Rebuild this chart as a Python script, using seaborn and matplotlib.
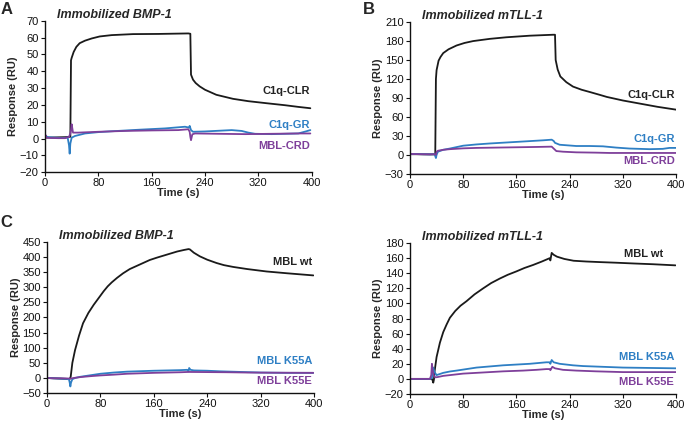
import matplotlib
matplotlib.use("Agg")
import matplotlib.pyplot as plt
import seaborn as sns
import pandas as pd

# ---- data (time in s, response in RU) ----
# A: immobilized BMP-1
a_clr_t = [0, 10, 20, 30, 38, 39, 40, 43, 47, 52, 60, 70, 82, 100, 132, 170, 215, 218, 219, 222, 226, 232, 240, 257, 282, 305, 332, 360, 380, 398]
a_clr_y = [0.5, 0.6, 0.7, 0.8, 1, 46.5, 48, 51.5, 54.5, 56.7, 58.2, 59.5, 60.7, 61.5, 62.1, 62.2, 62.5, 62.3, 38, 35, 33, 31, 29, 26, 23.6, 22.2, 21, 19.8, 18.8, 18]
a_gr_t = [0, 5, 15, 25, 34, 36, 37, 38, 40, 45, 60, 80, 100, 140, 180, 210, 216, 217, 219, 222, 240, 260, 280, 295, 305, 315, 340, 380, 392, 398]
a_gr_y = [1.5, 0.8, 0.5, 0.3, 0.5, -4, -9, -3, 0.5, 1.5, 3, 3.8, 4.3, 5.2, 6, 7, 6.5, 7.5, 5, 4, 4.2, 4.6, 5, 4.5, 3.5, 2.8, 2.6, 3, 4.3, 5]
a_crd_t = [0, 1, 2, 10, 20, 30, 36, 38, 39, 40, 42, 50, 80, 120, 160, 200, 215, 217, 218, 219, 221, 225, 260, 300, 340, 380, 398]
a_crd_y = [0.5, 2, 0.5, 0.3, 0.2, 0.2, 1, 3, 5, 8.5, 3.5, 3.5, 4, 4.5, 4.8, 5, 5.5, 4, 1, -1, 2.5, 3, 2.8, 2.6, 2.8, 3, 3]

# B: immobilized mTLL-1
b_clr_t = [0, 10, 20, 30, 38, 39, 40, 43, 46, 50, 58, 70, 82, 95, 120, 145, 180, 215, 218, 219, 222, 226, 235, 245, 258, 270, 285, 296, 320, 346, 372, 400]
b_clr_y = [1, 1, 0.8, 0.7, 0.8, 120, 134, 149, 155, 161, 167, 173, 177, 180, 183.5, 186, 188.5, 190, 190, 150, 135, 124, 115, 108, 103, 99.5, 95, 91.6, 86, 81, 76, 71.5]
b_gr_t = [0, 10, 20, 30, 37, 39, 40, 42, 50, 60, 80, 100, 120, 160, 200, 213, 216, 218, 225, 250, 270, 290, 310, 330, 360, 380, 390, 400]
b_gr_y = [1.5, 1.2, 1, 0.8, 1, -5, 0, 5, 8, 10, 14.5, 16.5, 18, 20.5, 23, 24, 22, 19, 16, 14, 14, 13.5, 11.5, 10, 9, 9.5, 11, 11]
b_crd_t = [0, 10, 20, 30, 37, 39, 40, 42, 50, 60, 80, 100, 130, 160, 190, 213, 216, 220, 230, 250, 280, 300, 340, 400]
b_crd_y = [1.5, 1.2, 1, 0.8, 1, 0, 5, 6.5, 8, 9, 10.3, 11, 11.5, 12, 12.5, 13, 10, 6, 5, 4, 3.5, 3, 3, 3]

# C: MBL variants on BMP-1
c_wt_t = [0, 10, 20, 30, 34, 35.5, 38, 42, 48, 54, 62, 70, 78, 85, 91, 97, 105, 114, 124, 134, 145, 154, 165, 180, 195, 205, 212, 214, 220, 229, 240, 254, 265, 279, 300, 329, 360, 399]
c_wt_y = [0, -1, -2, -3, -3, 4, 50, 92, 140, 181, 215, 242, 266, 287, 303, 316, 331, 346, 360, 370, 381, 390, 398, 408, 418, 423, 426, 425, 414, 402, 391, 380, 373, 367, 360, 352, 346, 339]
c_k55a_t = [0, 10, 20, 30, 33, 34, 35, 36, 38, 42, 50, 65, 80, 100, 120, 160, 200, 210, 212, 213, 215, 220, 240, 260, 290, 320, 360, 399]
c_k55a_y = [0, -1, -2, -3, -5, -15, -28, -15, -4, 0, 4, 9, 14, 18, 21, 24, 26, 27, 22, 33, 27, 25, 24, 22, 20, 18, 17, 17]
c_k55e_t = [0, 10, 20, 30, 35, 40, 50, 65, 80, 100, 120, 160, 200, 212, 240, 270, 300, 340, 399]
c_k55e_y = [0, -1, -1, -1.5, -2, 0, 3, 6, 8.5, 11, 14, 17, 19, 20, 19.5, 19, 18, 17.5, 17]

# D: MBL variants on mTLL-1
d_wt_t = [0, 10, 20, 30, 33, 34, 35, 36, 37, 40, 45, 50, 55, 60, 68, 76, 85, 97, 110, 122, 135, 147, 160, 172, 185, 198, 210, 211, 213, 216, 221, 232, 246, 265, 286, 310, 336, 365, 399]
d_wt_y = [0, 0, 0, 0, 0, -2, -5, -1, 10, 29, 48, 62, 72, 81, 90, 97, 103, 112, 120, 127, 133, 138, 142.5, 147, 151, 155.5, 160, 157, 167, 164.5, 162, 159, 156.6, 155.6, 154.8, 154, 153, 152, 150.5]
d_k55a_t = [0, 10, 20, 30, 33, 34, 35, 37, 40, 45, 50, 60, 70, 85, 100, 120, 140, 160, 180, 205, 210, 211, 213, 216, 225, 245, 260, 290, 320, 360, 400]
d_k55a_y = [0, 0, 0, 0, 1, 10, 15, 9, 5, 6.5, 8, 9.8, 11, 13, 15, 16.5, 18, 19, 20, 22, 22, 20, 25, 22, 20, 18, 17, 16, 15, 14.5, 14]
d_k55e_t = [0, 10, 20, 30, 32, 33, 34, 36, 38, 42, 50, 65, 80, 110, 140, 170, 190, 205, 210, 211, 214, 218, 230, 250, 280, 320, 360, 400]
d_k55e_y = [0, 0, 0, 0, 5, 20, 12, 4, 2, 2.5, 4, 5.5, 7, 8.5, 10, 11, 12, 13, 13, 11.5, 16, 14, 12, 11, 10, 9, 9, 9]

BLACK = "#1a1a1a"
BLUE = "#2e7fc4"
PURPLE = "#7e3f9a"

panels = [
    dict(letter="A", title="Immobilized BMP-1", ylim=(-20, 70), ystep=10,
         rect=[0.0657, 0.595, 0.3893, 0.356],
         series=[(a_clr_t, a_clr_y, BLACK), (a_gr_t, a_gr_y, BLUE), (a_crd_t, a_crd_y, PURPLE)],
         labels=[("C1q-CLR", 398, 28, "#222222"), ("C1q-GR", 398, 8, BLUE), ("MBL-CRD", 398, -4.5, PURPLE)]),
    dict(letter="B", title="Immobilized mTLL-1", ylim=(-30, 210), ystep=30,
         rect=[0.5985, 0.591, 0.3885, 0.357],
         series=[(b_clr_t, b_clr_y, BLACK), (b_gr_t, b_gr_y, BLUE), (b_crd_t, b_crd_y, PURPLE)],
         labels=[("C1q-CLR", 398, 95, "#222222"), ("C1q-GR", 398, 25, BLUE), ("MBL-CRD", 398, -9.5, PURPLE)]),
    dict(letter="C", title="Immobilized BMP-1", ylim=(-50, 450), ystep=50,
         rect=[0.0686, 0.075, 0.3898, 0.356],
         series=[(c_wt_t, c_wt_y, BLACK), (c_k55a_t, c_k55a_y, BLUE), (c_k55e_t, c_k55e_y, PURPLE)],
         labels=[("MBL wt", 397, 384, "#222222"), ("MBL K55A", 397, 57, BLUE), ("MBL K55E", 397, -9, PURPLE)]),
    dict(letter=None, title="Immobilized mTLL-1", ylim=(-20, 180), ystep=20,
         rect=[0.5985, 0.073, 0.3885, 0.355],
         series=[(d_wt_t, d_wt_y, BLACK), (d_k55a_t, d_k55a_y, BLUE), (d_k55e_t, d_k55e_y, PURPLE)],
         labels=[("MBL wt", 380, 166, "#222222"), ("MBL K55A", 397, 29.5, BLUE), ("MBL K55E", 397, -4.5, PURPLE)]),
]

sns.set_style("ticks")
plt.rcParams["font.family"] = ["Liberation Sans", "DejaVu Sans"]

fig = plt.figure(figsize=(6.85, 4.25), dpi=100)

for p in panels:
    ax = fig.add_axes(p["rect"])
    for t, y, c in p["series"]:
        df = pd.DataFrame({"t": t, "y": y})
        sns.lineplot(data=df, x="t", y="y", ax=ax, color=c, linewidth=1.3, estimator=None, sort=False)
    ax.set_xlim(0, 400)
    ax.set_ylim(*p["ylim"])
    ax.set_xticks(range(0, 401, 80))
    lo, hi = p["ylim"]
    ax.set_yticks(range(lo, hi + 1, p["ystep"]))
    ax.tick_params(axis="both", labelsize=8, length=3, width=0.8, pad=1.5, colors="#111111")
    for s in ["left", "bottom"]:
        ax.spines[s].set_linewidth(1.0)
        ax.spines[s].set_color("#111111")
    sns.despine(ax=ax)
    ax.set_xlabel("Time (s)", fontsize=8, fontweight="bold", labelpad=0)
    ax.set_ylabel("Response (RU)", fontsize=8, fontweight="bold", labelpad=1)
    ax.text(0.045, 1.04, p["title"], transform=ax.transAxes, fontsize=9, fontweight="bold",
            fontstyle="italic", va="center", ha="left")
    for txt, x, y, c in p["labels"]:
        ax.text(x, y, txt, color=c, fontsize=8, fontweight="bold", ha="right", va="center")

fig.text(0.009, 0.977, "A", fontsize=12, fontweight="bold", ha="center", va="center")
fig.text(0.539, 0.977, "B", fontsize=12, fontweight="bold", ha="center", va="center")
fig.text(0.009, 0.476, "C", fontsize=12, fontweight="bold", ha="center", va="center")

fig.savefig("out.png", dpi=100)
